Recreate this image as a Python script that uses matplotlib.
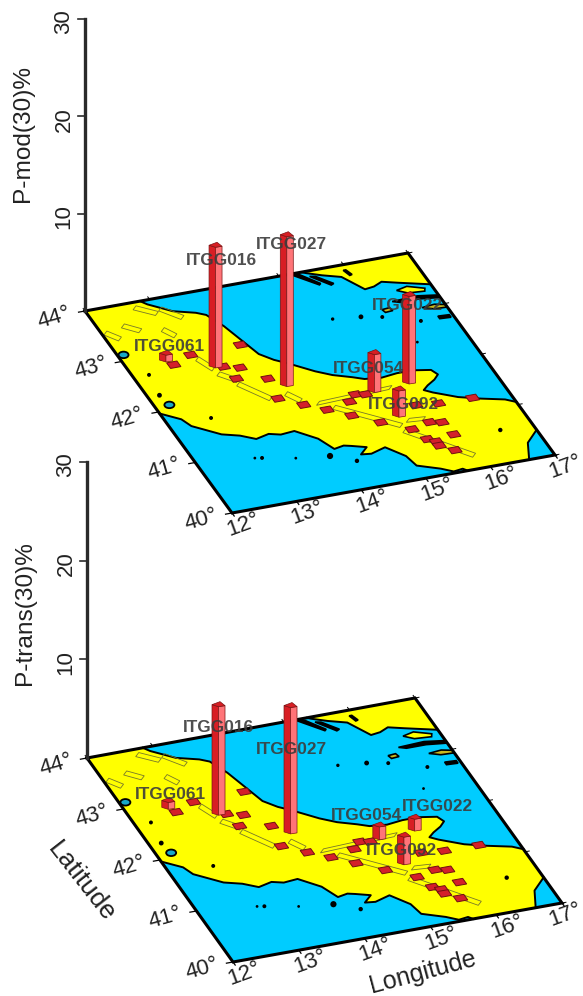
import numpy as np
import matplotlib
matplotlib.use('Agg')
import matplotlib.pyplot as plt
from matplotlib.patches import Polygon, Ellipse

plt.rcParams['font.family'] = ['Liberation Sans', 'DejaVu Sans']

# Map extent
lon_min, lon_max = 12.0, 17.0
lat_min, lat_max = 40.0, 44.0
lon_ticks = [12, 13, 14, 15, 16, 17]
lat_ticks = [40, 41, 42, 43, 44]
z_ticks = [10, 20, 30]

# Coast of Italy, lon/lat
adriatic_lon = [12.85, 12.92, 13.2, 13.5, 13.62, 13.75, 13.85, 13.95, 14.1, 14.25, 14.55, 14.75, 15.0, 15.15,
                15.4, 15.65, 15.9, 16.15, 16.2, 16.1, 15.95, 15.85, 15.95, 16.25, 16.55, 16.87, 17.0]
adriatic_lat = [44.0, 43.92, 43.72, 43.62, 43.55, 43.3, 43.0, 42.7, 42.55, 42.45, 42.22, 42.1, 42.0, 41.93,
                41.9, 41.93, 41.93, 41.88, 41.78, 41.7, 41.62, 41.55, 41.48, 41.32, 41.22, 41.13, 41.05]
ionian_lon = [17.0, 16.9, 16.75, 16.6]
ionian_lat = [40.5, 40.42, 40.3, 40.0]
tyrrhenian_lon = [15.65, 15.6, 15.45, 15.3, 15.0, 14.95, 14.75, 14.5, 14.35, 14.5, 14.3, 14.2, 14.04, 13.92,
                  13.67, 13.45, 13.29, 13.07, 12.88, 12.64, 12.31, 12.24, 12.0]
tyrrhenian_lat = [40.0, 40.05, 40.03, 40.12, 40.25, 40.45, 40.67, 40.6, 40.62, 40.73, 40.8, 40.83, 40.8, 41.03,
                  41.24, 41.22, 41.27, 41.22, 41.33, 41.41, 41.65, 41.8, 41.97]

# Croatian coast
croatia_lon = [15.35, 15.4, 15.6, 15.85, 16.05, 16.2, 16.35, 16.57, 17.0]
croatia_lat = [44.0, 43.97, 43.88, 43.79, 43.5, 43.52, 43.58, 43.51, 43.38]

# Islands (lon list, lat list, fill)
islands = [
    ([15.19, 15.3, 15.5, 15.47], [43.98, 43.96, 43.74, 43.72], 'black'),
    ([15.42, 15.5, 15.68, 15.63], [43.9, 43.88, 43.7, 43.68], 'black'),
    ([15.94, 15.98, 16.02, 15.98], [43.9, 43.9, 43.8, 43.79], 'black'),
    ([16.47, 16.65, 16.88, 16.85, 16.6], [43.38, 43.42, 43.33, 43.28, 43.3], '#ffff00'),
    ([16.3, 16.7, 17.0, 17.0, 16.7, 16.4], [43.2, 43.22, 43.17, 43.12, 43.16, 43.16], 'black'),
    ([16.08, 16.2, 16.22, 16.1], [43.09, 43.1, 43.04, 43.03], '#c8b820'),
    ([16.65, 16.85, 17.0, 17.0, 16.8], [43.0, 43.02, 42.98, 42.93, 42.94], '#c8b820'),
    ([16.78, 16.95, 16.95, 16.78], [42.8, 42.79, 42.74, 42.75], 'black'),
]
dot_lon = [15.31, 15.72, 16.01, 16.5, 16.24, 16.5, 12.24, 12.18, 12.66, 12.86, 12.96, 13.42, 13.91, 14.23]
dot_lat = [43.08, 43.03, 42.96, 42.77, 42.41, 40.61, 42.68, 42.29, 41.73, 40.89, 40.87, 40.76, 40.69, 40.52]
dot_size = [6, 12, 8, 8, 4, 10, 8, 12, 8, 4, 8, 4, 20, 10]
lake_lon = [12.09, 12.22]
lake_lat = [43.11, 42.09]

# Seismogenic source strips: start and end lon/lat
fault_lon1 = [13.06, 13.20, 13.37, 13.93, 12.37, 12.88, 12.06, 12.71, 13.05, 14.27, 14.45, 15.18, 15.33]
fault_lat1 = [42.81, 42.48, 42.24, 41.92, 43.62, 43.43, 43.55, 43.90, 43.80, 41.65, 41.53, 40.90, 41.07]
fault_lon2 = [13.18, 13.40, 13.67, 14.06, 12.56, 12.99, 12.20, 12.96, 13.27, 15.42, 15.19, 15.89, 15.57]
fault_lat2 = [42.58, 42.30, 41.88, 41.75, 43.48, 43.28, 43.40, 43.73, 43.58, 41.70, 41.00, 40.25, 41.05]

# Stations with no bar
site_lon = [13.01, 12.68, 13.79, 13.34, 13.56, 13.40, 13.83, 13.77, 14.06, 14.33, 14.72, 14.61, 14.87, 15.01,
            14.94, 15.92, 16.44, 15.61, 15.78, 15.30, 15.82, 15.41, 15.51, 15.51, 15.68, 15.59]
site_lat = [42.90, 42.78, 42.92, 42.59, 42.52, 42.34, 42.24, 41.86, 41.67, 41.51, 41.58, 41.33, 41.69, 41.66,
            41.12, 41.27, 41.26, 40.97, 40.93, 40.90, 40.68, 40.68, 40.61, 40.53, 40.40, 41.31]

# Stations with bars
stations = ['ITGG016', 'ITGG027', 'ITGG061', 'ITGG022', 'ITGG054', 'ITGG092']
station_lon = [13.23, 14.02, 12.61, 15.72, 15.16, 15.25]
station_lat = [42.61, 42.06, 42.87, 41.72, 41.68, 41.17]
p_mod = [12.4, 15.4, 0.7, 9.0, 3.9, 2.7]
p_trans = [11.0, 12.8, 0.7, 1.2, 1.3, 2.8]

# Panel layout in pixels: corners (lon,lat) -> (x,y)
top_corners = {'nw': (85, 311), 'ne': (408, 253), 'sw': (232, 513), 'se': (555, 455)}
low_corners = {'nw': (87, 758), 'ne': (415, 698), 'sw': (233, 962), 'se': (562, 903)}
top_labels = [(221, 260), (291, 244), (169, 346), (407, 305), (369, 368), (403, 404)]
low_labels = [(218, 727), (291, 749), (170, 794), (437, 806), (366, 815), (401, 850)]

LAND = '#ffff00'
SEA = '#00ccff'
PINK = '#ff7478'
DARK = '#d81e24'
MARK = '#d4202a'
INK = '#222222'

fig = plt.figure(figsize=(5.83, 9.96), dpi=100)
ax = fig.add_axes([0, 0, 1, 1])
ax.set_xlim(0, 583)
ax.set_ylim(996, 0)
ax.axis('off')


def make_proj(c, z_scale):
    # bilinear map between the four corners, z goes straight up the page
    def proj(lon, lat, z=0.0):
        u = (np.asarray(lon, float) - lon_min) / (lon_max - lon_min)
        v = (lat_max - np.asarray(lat, float)) / (lat_max - lat_min)
        x = (1 - u) * (1 - v) * c['nw'][0] + u * (1 - v) * c['ne'][0] + (1 - u) * v * c['sw'][0] + u * v * c['se'][0]
        y = (1 - u) * (1 - v) * c['nw'][1] + u * (1 - v) * c['ne'][1] + (1 - u) * v * c['sw'][1] + u * v * c['se'][1]
        return x, y - np.asarray(z, float) * z_scale
    return proj


def fill(proj, lons, lats, **kw):
    x, y = proj(lons, lats)
    ax.add_patch(Polygon(np.column_stack([x, y]), closed=True, **kw))


def bar(proj, lon, lat, h):
    xc, y0 = proj(lon, lat)
    _, y1 = proj(lon, lat, h)
    edge = dict(edgecolor='#7a1414', linewidth=0.5, zorder=6)
    # left face, right face, lid
    ax.add_patch(Polygon([(xc - 6.5, y0 - 1), (xc, y0 + 1), (xc, y1 + 1), (xc - 6.5, y1 - 1)], facecolor=DARK, **edge))
    ax.add_patch(Polygon([(xc, y0 + 1), (xc + 6.5, y0), (xc + 6.5, y1), (xc, y1 + 1)], facecolor=PINK, **edge))
    ax.add_patch(Polygon([(xc - 6.5, y1 - 1), (xc + 1.5, y1 - 4), (xc + 6.5, y1), (xc, y1 + 1)], facecolor=DARK, **edge))


def draw_panel(corners, z_scale, values, label_xy, ylabel, ylabel_y):
    proj = make_proj(corners, z_scale)

    # sea
    fill(proj, [lon_min, lon_max, lon_max, lon_min], [lat_max, lat_max, lat_min, lat_min],
         facecolor=SEA, edgecolor='none', zorder=1)

    # mainland
    land_lon = adriatic_lon + ionian_lon + tyrrhenian_lon + [lon_min, lon_min]
    land_lat = adriatic_lat + ionian_lat + tyrrhenian_lat + [lat_max, lat_max]
    fill(proj, land_lon, land_lat, facecolor=LAND, edgecolor='none', zorder=2)
    fill(proj, croatia_lon + [lon_max], croatia_lat + [lat_max], facecolor=LAND, edgecolor='none', zorder=2)

    # coast lines
    for lo, la in [(adriatic_lon, adriatic_lat), (ionian_lon, ionian_lat),
                   (tyrrhenian_lon, tyrrhenian_lat), (croatia_lon, croatia_lat)]:
        x, y = proj(lo, la)
        ax.plot(x, y, color='black', lw=1.4, zorder=3, solid_joinstyle='round')
    for lo, la, col in islands:
        fill(proj, lo, la, facecolor=col, edgecolor='black', linewidth=1.2, zorder=3)
    x, y = proj(dot_lon, dot_lat)
    ax.scatter(x, y, s=dot_size, color='black', linewidth=0, zorder=3)
    for lo, la in zip(lake_lon, lake_lat):
        x, y = proj(lo, la)
        ax.add_patch(Ellipse((x, y), 10, 6.5, facecolor='#18a8c8', edgecolor='black', linewidth=1.3, zorder=3))

    # thin source strips
    for lo1, la1, lo2, la2 in zip(fault_lon1, fault_lat1, fault_lon2, fault_lat2):
        fill(proj, [lo1 - 0.04, lo1 + 0.04, lo2 + 0.04, lo2 - 0.04], [la1 - 0.03, la1 + 0.03, la2 + 0.03, la2 - 0.03],
             facecolor='none', edgecolor='#77772a', linewidth=0.6, zorder=3)

    # red squares
    for lo, la in zip(site_lon, site_lat):
        fill(proj, [lo - 0.08, lo + 0.08, lo + 0.08, lo - 0.08], [la - 0.055, la - 0.055, la + 0.055, la + 0.055],
             facecolor=MARK, edgecolor='#701010', linewidth=0.7, zorder=4)

    # frame
    x, y = proj([lon_min, lon_max, lon_max, lon_min, lon_min], [lat_max, lat_max, lat_min, lat_min, lat_max])
    ax.plot(x, y, color='black', lw=2.2, zorder=5, solid_joinstyle='miter')

    # lon ticks and labels along the south edge
    for lo in lon_ticks:
        x0, y0 = proj(lo, lat_min)
        x1, y1 = proj(lo, lat_min - 0.06)
        ax.plot([x0, x1], [y0, y1], color='black', lw=0.9, zorder=5)
        lx = min(x0 + 11, 565)
        ax.text(lx, y0 + 12, f'{lo}°', fontsize=16, rotation=20, ha='center', va='center', color=INK)
        # north edge ticks
        x0, y0 = proj(lo, lat_max)
        x1, y1 = proj(lo, lat_max + 0.05)
        ax.plot([x0, x1], [y0, y1], color='black', lw=0.7, zorder=5)
    for la in lat_ticks:
        x0, y0 = proj(lon_min, la)
        x1, y1 = proj(lon_min - 0.1, la)
        ax.plot([x0, x1], [y0, y1], color='black', lw=0.9, zorder=5)
        ax.text(x0 - 31, y0 + 7, f'{la}°', fontsize=16, rotation=16, ha='center', va='center', color=INK)
        x0, y0 = proj(lon_max, la)
        x1, y1 = proj(lon_max + 0.06, la)
        ax.plot([x0, x1], [y0, y1], color='black', lw=0.7, zorder=5)

    # z axis
    x0, y0 = proj(lon_min, lat_max)
    x1, y1 = proj(lon_min, lat_max, 30)
    ax.plot([x0, x1], [y0, y1], color='#2a2a2a', lw=2.4, zorder=5)
    for t in z_ticks:
        xt, yt = proj(lon_min, lat_max, t)
        ax.plot([xt - 7, xt], [yt, yt], color='#2a2a2a', lw=1.2, zorder=5)
        ax.text(xt - 21, yt + 3, str(t), fontsize=16, rotation=90, ha='center', va='center', color=INK)
    ax.text(x0 - 62, ylabel_y, ylabel, fontsize=17.6, rotation=90, ha='center', va='center', color=INK)

    # bars, back to front
    order = np.argsort(station_lat)[::-1]
    for i in order:
        bar(proj, station_lon[i], station_lat[i], values[i])
    for name, (tx, ty) in zip(stations, label_xy):
        ax.text(tx, ty, name, fontsize=12.4, fontweight='bold', ha='center', va='center', color='#3c3c3c',
                alpha=0.9, zorder=8)


draw_panel(top_corners, 9.73, p_mod, top_labels, 'P-mod(30)%', 133)
draw_panel(low_corners, 9.87, p_trans, low_labels, 'P-trans(30)%', 613)

ax.text(81, 882, 'Latitude', fontsize=19, rotation=-52, ha='center', va='center', color=INK)
ax.text(423, 972, 'Longitude', fontsize=18, rotation=15, ha='center', va='center', color=INK)

fig.savefig('out.png', dpi=100)
